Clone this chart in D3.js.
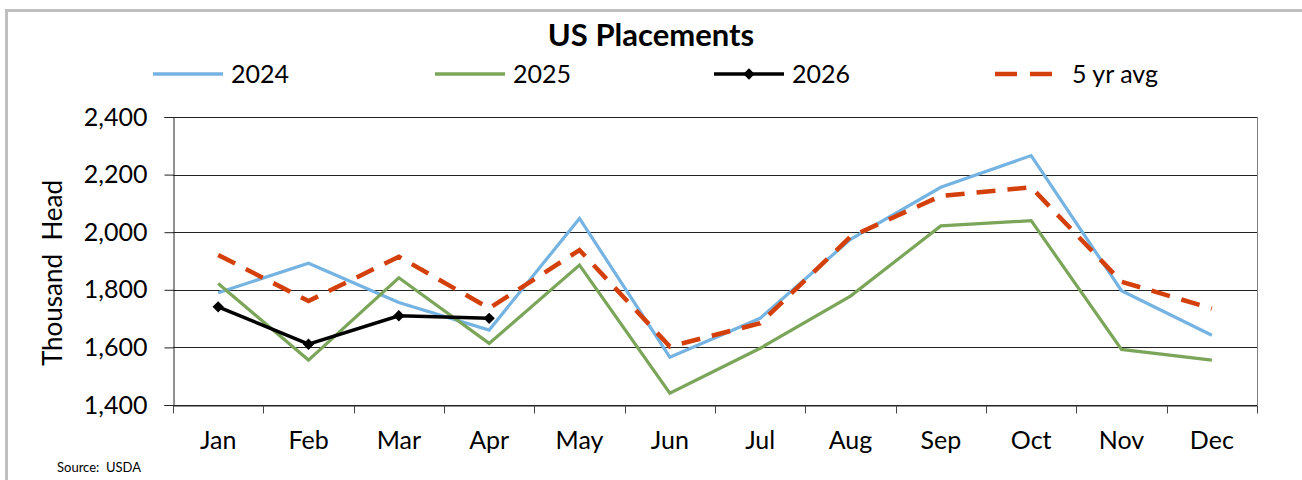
<!doctype html>
<html>
<head>
  <!-- loads d3 -->
  <script src="https://d3js.org/d3.v7.min.js" charset="utf-8"></script>
  <style>
    body { margin: 0; background: #fff; }
    text { font-family: Lato, "Open Sans", sans-serif; fill: #000; }
  </style>
</head>
<body>
<div id="viz"></div>
<script>
// chart data
var months = ["Jan", "Feb", "Mar", "Apr", "May", "Jun", "Jul", "Aug", "Sep", "Oct", "Nov", "Dec"];
var y2024 = [1790, 1892, 1756, 1660, 2048, 1566, 1701, 1975, 2156, 2266, 1797, 1642];
var y2025 = [1822, 1556, 1842, 1614, 1886, 1441, 1597, 1778, 2022, 2040, 1593, 1556];
var y2026 = [1741, 1611, 1710, 1701];
var avg5 = [1921, 1761, 1915, 1736, 1938, 1603, 1684, 1984, 2126, 2156, 1828, 1735];
var yTicks = [1400, 1600, 1800, 2000, 2200, 2400];

var W = 1302, H = 480;
var margin = {top: 117, right: 45, bottom: 75, left: 173};
var width = W - margin.left - margin.right,
    height = H - margin.top - margin.bottom;

var svg = d3.select("#viz").append("svg")
    .attr("width", W)
    .attr("height", H);

// gray outer frame
svg.append("rect")
    .attr("x", 6.5).attr("y", 10.5)
    .attr("width", 1400).attr("height", 600)
    .attr("fill", "none")
    .attr("stroke", "#bfbfbf")
    .attr("stroke-width", 3);

var g = svg.append("g")
    .attr("transform", "translate(" + margin.left + "," + margin.top + ")");

// scales
var x = d3.scaleBand().domain(months).range([0, width]);
var y = d3.scaleLinear().domain([1400, 2400]).range([height, 0]);
var cx = function(i) { return x(months[i]) + x.bandwidth() / 2; };

// horizontal gridlines
g.selectAll(".grid")
  .data(yTicks)
  .enter().append("line")
    .attr("x1", 0).attr("x2", width)
    .attr("y1", d => Math.round(y(d)) + 0.5)
    .attr("y2", d => Math.round(y(d)) + 0.5)
    .attr("stroke", "#222")
    .attr("stroke-width", 1);

// right border of plot area
g.append("line")
    .attr("x1", Math.round(width) + 0.5).attr("x2", Math.round(width) + 0.5)
    .attr("y1", 0).attr("y2", height)
    .attr("stroke", "#808080");

// y axis
var yAxis = g.append("g")
    .attr("transform", "translate(0.5,0)")
    .call(d3.axisLeft(y).tickValues(yTicks).tickSize(9).tickPadding(17).tickFormat(d3.format(",")));
yAxis.selectAll("text").style("font-size", "25px");
yAxis.selectAll("path, line").attr("stroke", "#222");

// x axis, ticks on band edges
var xAxis = g.append("g")
    .attr("transform", "translate(0," + (Math.round(height) + 0.5) + ")")
    .call(d3.axisBottom(x).tickSize(0).tickPadding(26));
xAxis.select(".domain").attr("stroke", "#222");
xAxis.selectAll("text").style("font-size", "25px");
xAxis.selectAll(".edge")
  .data(d3.range(months.length + 1))
  .enter().append("line")
    .attr("x1", i => Math.round(i * x.step()) + 0.5)
    .attr("x2", i => Math.round(i * x.step()) + 0.5)
    .attr("y1", 0).attr("y2", 8)
    .attr("stroke", "#444");

var line = d3.line()
    .x((d, i) => cx(i))
    .y(d => y(d));

// series
g.append("path").datum(y2024)
    .attr("d", line).attr("fill", "none")
    .attr("stroke", "#74b3e2").attr("stroke-width", 3.2);

g.append("path").datum(y2025)
    .attr("d", line).attr("fill", "none")
    .attr("stroke", "#7ba65a").attr("stroke-width", 3.2);

g.append("path").datum(avg5)
    .attr("d", line).attr("fill", "none")
    .attr("stroke", "#d4400c").attr("stroke-width", 4.5)
    .attr("stroke-dasharray", "19,12");

g.append("path").datum(y2026)
    .attr("d", line).attr("fill", "none")
    .attr("stroke", "#000").attr("stroke-width", 3.5);

// diamond marker: a square turned 45 degrees
var diamond = d3.symbol().type(d3.symbolSquare).size(64);
g.selectAll(".mk")
  .data(y2026)
  .enter().append("path")
    .attr("d", diamond)
    .attr("transform", (d, i) => "translate(" + cx(i) + "," + y(d) + ") rotate(45)")
    .attr("fill", "#000");

// title
svg.append("text")
    .attr("x", 651).attr("y", 46)
    .attr("text-anchor", "middle")
    .style("font-size", "31px")
    .style("font-weight", "bold")
    .text("US Placements");

// legend
var legendNames = ["2024", "2025", "2026", "5 yr avg"];
var legendColors = ["#74b3e2", "#7ba65a", "#000", "#d4400c"];
var legendX = [153, 435, 714, 995];
var lg = svg.selectAll(".legend")
  .data(legendNames)
  .enter().append("g")
    .attr("transform", (d, i) => "translate(" + legendX[i] + ",74)");
lg.append("line")
    .attr("x1", 0).attr("x2", (d, i) => i === 3 ? 57 : 70)
    .attr("stroke", (d, i) => legendColors[i])
    .attr("stroke-width", (d, i) => i === 3 ? 4.5 : 3.5)
    .attr("stroke-dasharray", (d, i) => i === 3 ? "22,13" : null);
lg.filter((d, i) => i === 2).append("path")
    .attr("d", diamond)
    .attr("transform", "translate(35,0) rotate(45)");
lg.append("text")
    .attr("x", (d, i) => i === 3 ? 77 : 78)
    .attr("y", 9)
    .style("font-size", "25px")
    .text(d => d);

// y axis title
svg.append("text")
    .attr("transform", "translate(62,273) rotate(-90)")
    .attr("text-anchor", "middle")
    .style("font-size", "26px")
    .style("white-space", "pre")
    .text("Thousand  Head");

// source note
svg.append("text")
    .attr("x", 57).attr("y", 472)
    .style("font-size", "13px")
    .style("white-space", "pre")
    .text("Source:  USDA");
</script>
</div>
</body>
</html>
